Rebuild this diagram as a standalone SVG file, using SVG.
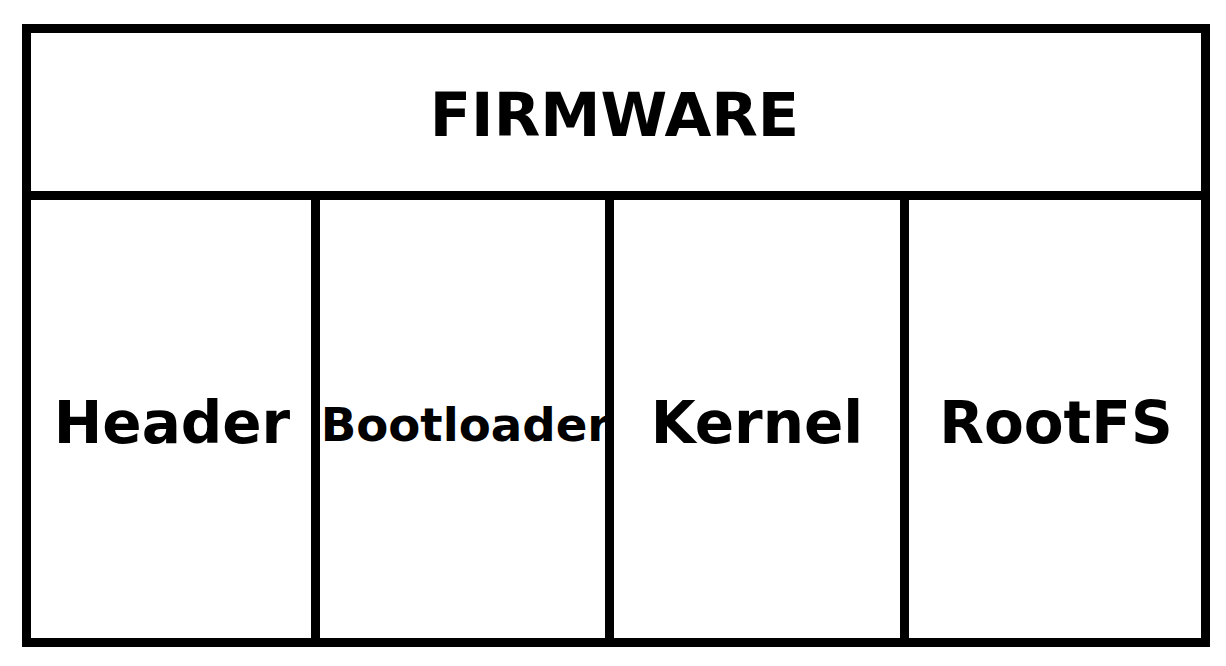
<svg xmlns="http://www.w3.org/2000/svg" width="1226" height="666" viewBox="0 0 1226 666">
<style>
.box{fill:#fff;stroke:#000;stroke-width:9}
.ln{stroke:#000;stroke-width:9;fill:none}
text{font-family:"DejaVu Sans",Verdana,sans-serif;font-weight:bold;fill:#000;text-anchor:middle}
.lbl{font-size:58px}
</style>
<rect width="1226" height="666" fill="#fff"/>
<g id="firmware">
<rect class="box" x="26.5" y="28.5" width="1179" height="614"/>
<text x="614.5" y="136" font-size="60.5">FIRMWARE</text>
</g>
<g id="connectors">
<line class="ln" x1="26.5" y1="195.5" x2="1205.5" y2="195.5"/>
<line class="ln" x1="315.5" y1="195.5" x2="315.5" y2="642.5"/>
<line class="ln" x1="609.5" y1="195.5" x2="609.5" y2="642.5"/>
<line class="ln" x1="904.5" y1="195.5" x2="904.5" y2="642.5"/>
</g>
<g id="header"><text class="lbl" x="172" y="443">Header</text></g>
<g id="bootloader"><text x="465.5" y="441" font-size="46.7">Bootloader</text></g>
<g id="kernel"><text class="lbl" x="757" y="443">Kernel</text></g>
<g id="rootfs"><text class="lbl" x="1056" y="443">RootFS</text></g>
</svg>
